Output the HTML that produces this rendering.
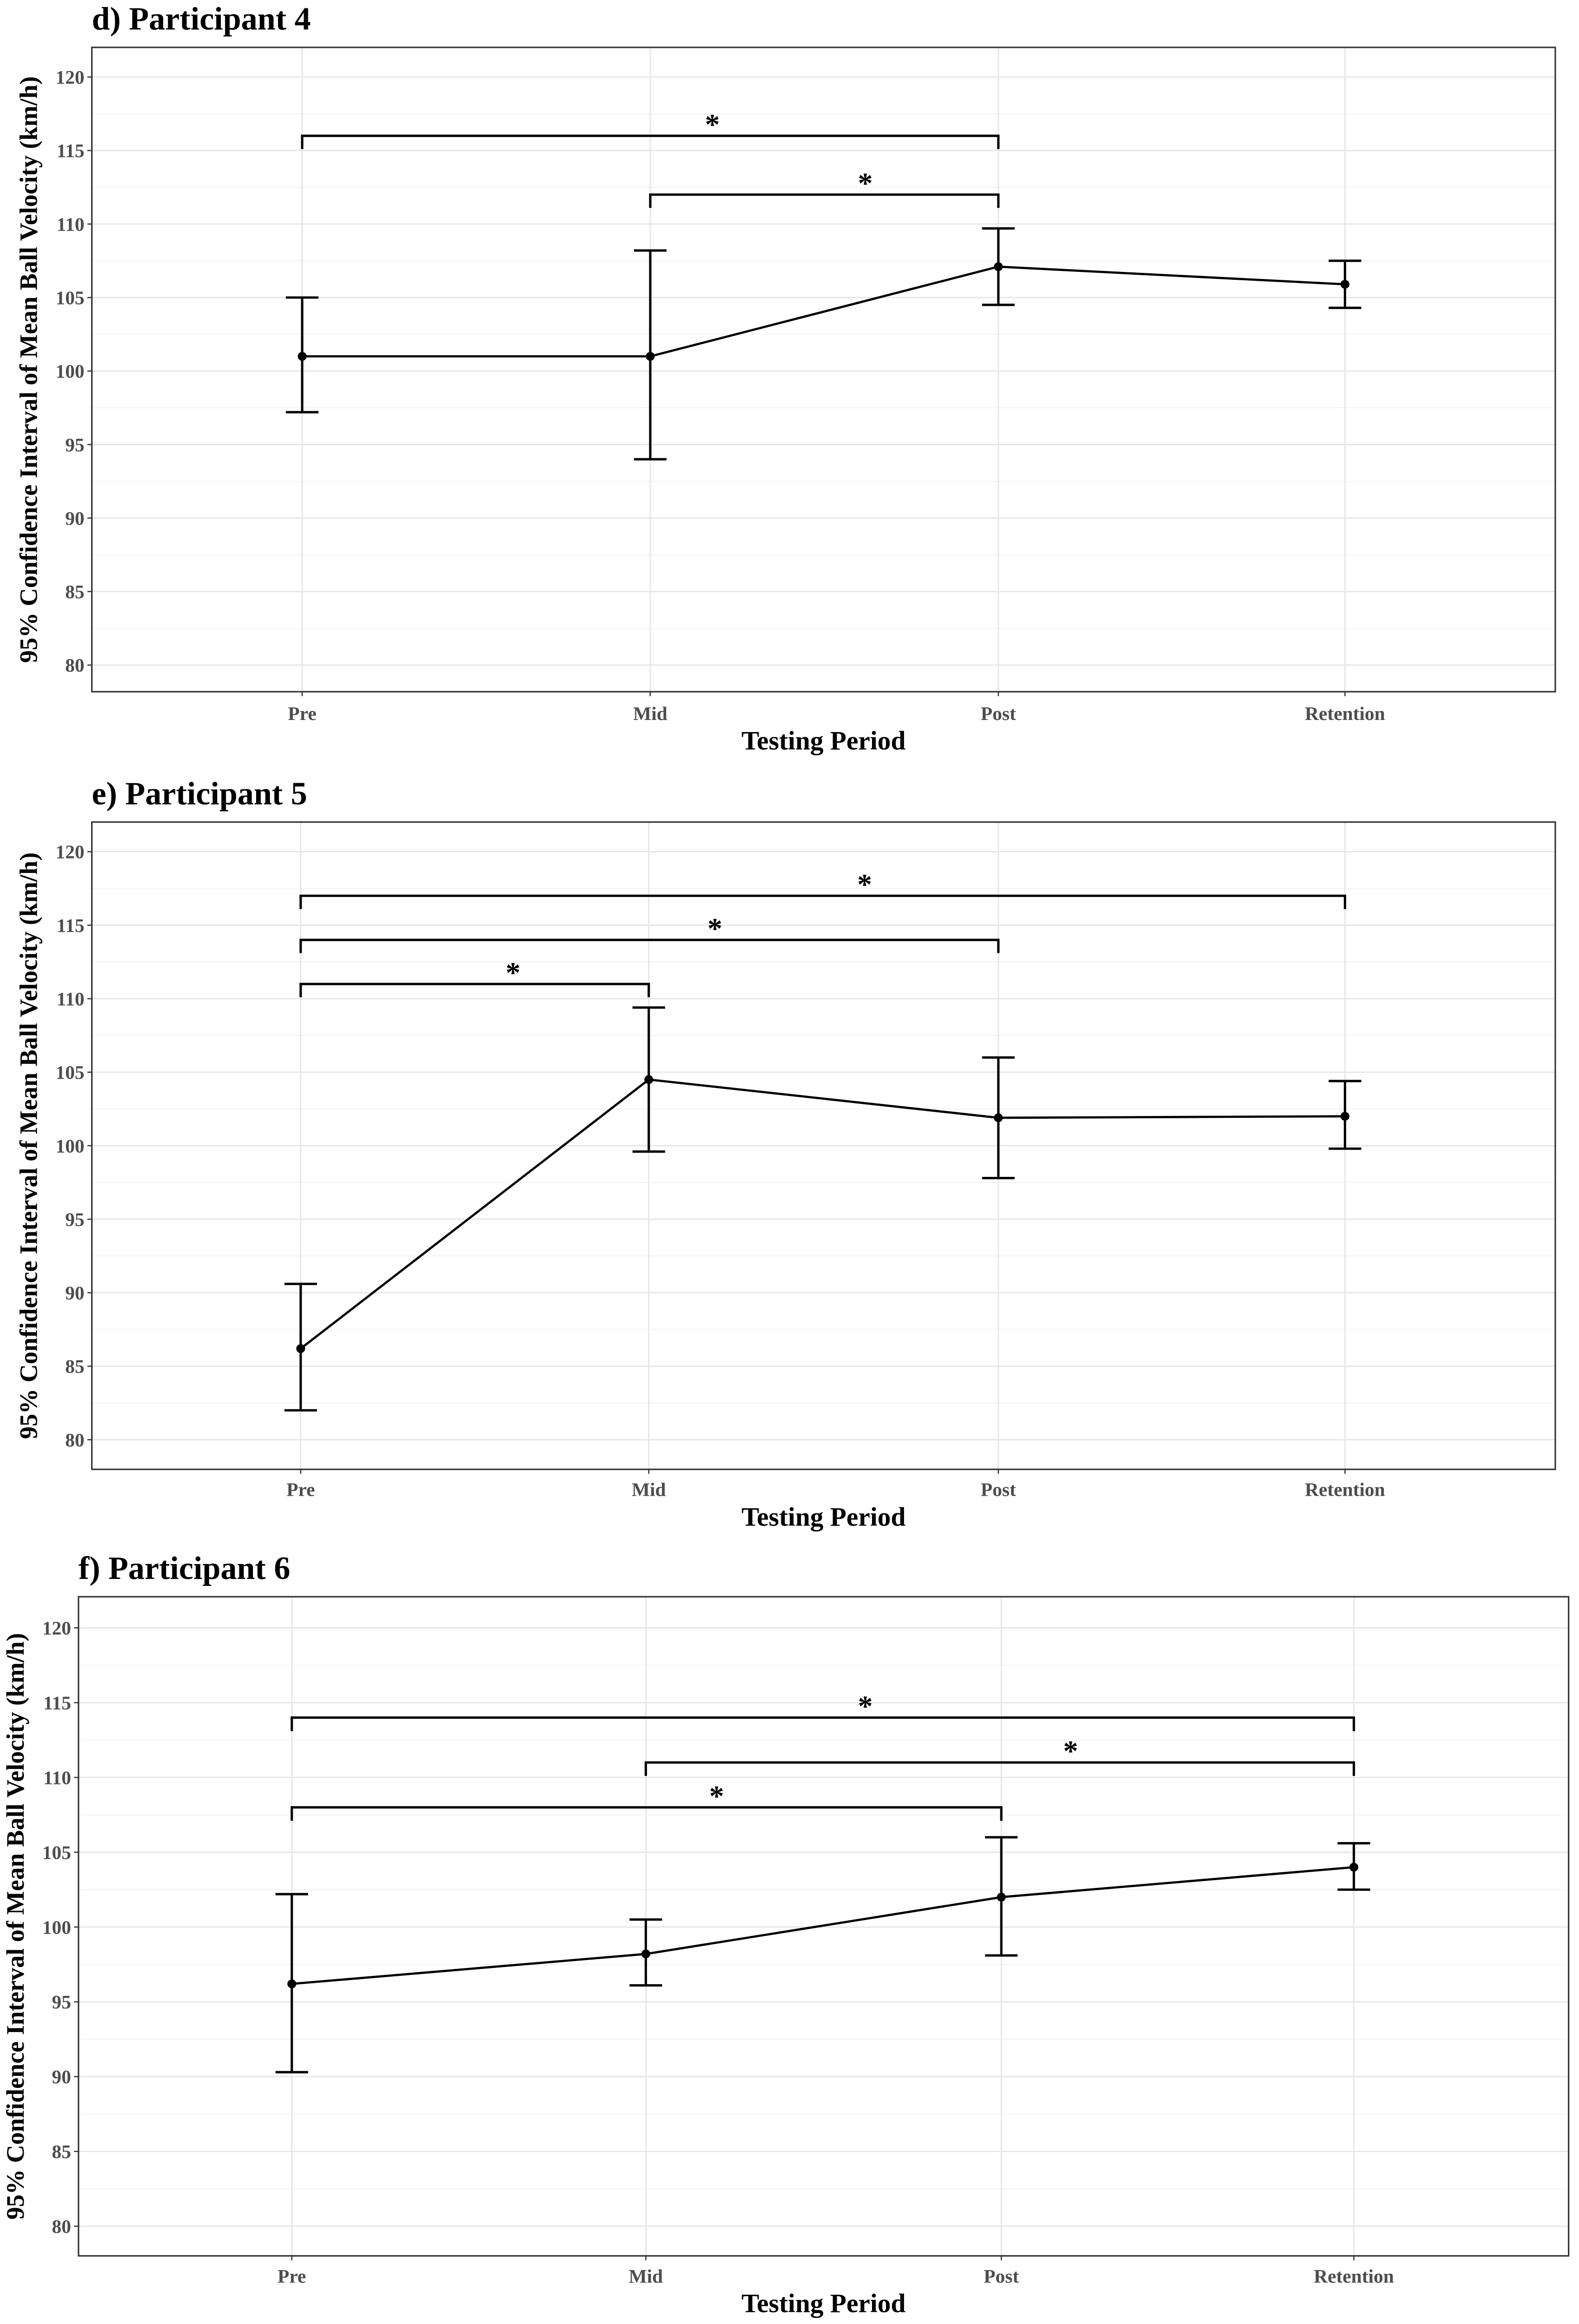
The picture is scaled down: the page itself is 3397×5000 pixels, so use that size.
<!DOCTYPE html>
<html><head><meta charset="utf-8"><style>
html,body{margin:0;padding:0;background:#fff}
svg{display:block}
text{font-family:"Liberation Serif",serif;font-weight:bold}
</style></head><body>
<svg id="chart" width="3397" height="5000" viewBox="0 0 1066 1569" preserveAspectRatio="none" xmlns="http://www.w3.org/2000/svg"></svg>
<script>
const categories = ["Pre","Mid","Post","Retention"];
const yTicks = [80,85,90,95,100,105,110,115,120];
const p4Mean = [101,101,107.1,105.9];
const p4Low = [97.2,94,104.5,104.3];
const p4High = [105,108.2,109.7,107.5];
const p4Brackets = [[0,2,116,1.18],[1,2,112,1.62]];
const p5Mean = [86.2,104.5,101.9,102];
const p5Low = [82,99.6,97.8,99.8];
const p5High = [90.6,109.4,106,104.4];
const p5Brackets = [[0,3,117,1.62],[0,2,114,1.19],[0,1,111,0.61]];
const p6Mean = [96.2,98.2,102,104];
const p6Low = [90.3,96.1,98.1,102.5];
const p6High = [102.2,100.5,106,105.6];
const p6Brackets = [[0,3,114,1.62],[1,3,111,2.2],[0,2,108,1.2]];

const svg = document.getElementById('chart');
const NS = "http://www.w3.org/2000/svg";
function el(tag, attrs, parent){const e=document.createElementNS(NS,tag);for(const k in attrs)e.setAttribute(k,attrs[k]);(parent||svg).appendChild(e);return e;}

const panels = [
 {title:"d) Participant 4", name:"panel-participant-4", box:[62,32,1050,467], y120:52, y80:449, xs:[204,439,674,908], mean:p4Mean, low:p4Low, high:p4High, br:p4Brackets, tickY:481, xTitleY:506, tx:62, ty:20, yTitleX:25},
 {title:"e) Participant 5", name:"panel-participant-5", box:[62,555,1050,992], y120:575, y80:972, xs:[203,438,674,908], mean:p5Mean, low:p5Low, high:p5High, br:p5Brackets, tickY:1005, xTitleY:1030, tx:62, ty:543, yTitleX:25},
 {title:"f) Participant 6", name:"panel-participant-6", box:[53,1078,1059,1523], y120:1099, y80:1503, xs:[197,436,676,914], mean:p6Mean, low:p6Low, high:p6High, br:p6Brackets, tickY:1536, xTitleY:1561, tx:53, ty:1066, yTitleX:16}
];

panels.forEach(p=>{
  const g = el('g',{});
  
  
  const [x0,y0,x1,y1]=p.box;
  const ys = v => p.y80 + (v-80)*(p.y120-p.y80)/40;
  const xc = idx => p.xs[0] + idx*(p.xs[3]-p.xs[0])/3;
  for(let v=77.5; v<=122.5; v+=5){const y=ys(v); if(y>y0&&y<y1) el('line',{x1:x0,x2:x1,y1:y,y2:y,stroke:'#f2f2f2','stroke-width':0.6},g);}
  yTicks.forEach(v=>{const y=ys(v); el('line',{x1:x0,x2:x1,y1:y,y2:y,stroke:'#e6e6e6','stroke-width':0.9},g);});
  p.xs.forEach(x=>el('line',{x1:x,x2:x,y1:y0,y2:y1,stroke:'#e6e6e6','stroke-width':0.9},g));
  el('rect',{x:x0,y:y0,width:x1-x0,height:y1-y0,fill:'none',stroke:'#333','stroke-width':1},g);
  yTicks.forEach(v=>{const y=ys(v);
    el('line',{x1:x0-3,x2:x0,y1:y,y2:y,stroke:'#333','stroke-width':0.8},g);
    const t=el('text',{x:x0-5,y:y+4.5,'text-anchor':'end','font-size':13,fill:'#4d4d4d'},g);t.textContent=v;
    
    
  });
  categories.forEach((c,i)=>{
    el('line',{x1:p.xs[i],x2:p.xs[i],y1:y1,y2:y1+3,stroke:'#333','stroke-width':0.8},g);
    const t=el('text',{x:p.xs[i],y:p.tickY+5,'text-anchor':'middle','font-size':13,fill:'#4d4d4d'},g);t.textContent=c;
    
    
  });
  el('polyline',{points:p.mean.map((m,i)=>p.xs[i]+','+ys(m)).join(' '),fill:'none',stroke:'#000','stroke-width':1.5},g);
  p.mean.forEach((m,i)=>{
    const x=p.xs[i], eb=el('g',{},g);
    
    
    el('line',{x1:x,x2:x,y1:ys(p.low[i]),y2:ys(p.high[i]),stroke:'#000','stroke-width':1.6},eb);
    el('line',{x1:x-11,x2:x+11,y1:ys(p.low[i]),y2:ys(p.low[i]),stroke:'#000','stroke-width':1.6},eb);
    el('line',{x1:x-11,x2:x+11,y1:ys(p.high[i]),y2:ys(p.high[i]),stroke:'#000','stroke-width':1.6},eb);
    const pt=el('circle',{cx:x,cy:ys(m),r:3,fill:'#000'},g);
    
    
  });
  p.br.forEach(b=>{
    const xa=p.xs[b[0]], xb=p.xs[b[1]], y=ys(b[2]), yd=ys(b[2]-0.9);
    const bg=el('g',{},g);
    
    
    el('polyline',{points:`${xa},${yd} ${xa},${y} ${xb},${y} ${xb},${yd}`,fill:'none',stroke:'#000','stroke-width':1.6},bg);
    const s=el('text',{x:xc(b[3]),y:y-1,'text-anchor':'middle','font-size':20,'font-family':'Liberation Sans, sans-serif',fill:'#000'},bg);s.textContent='*';
  });
  const tt=el('text',{x:p.tx,y:p.ty,'font-size':22,fill:'#000'},g);tt.textContent=p.title;
  
  
  const xt=el('text',{x:(x0+x1)/2,y:p.xTitleY,'text-anchor':'middle','font-size':18,fill:'#000'},g);xt.textContent='Testing Period';
  
  
  const cy=(y0+y1)/2;
  const yt=el('text',{x:p.yTitleX,y:cy,'text-anchor':'middle','font-size':17,fill:'#000',transform:`rotate(-90 ${p.yTitleX} ${cy})`},g);
  yt.textContent='95% Confidence Interval of Mean Ball Velocity (km/h)';
  
  
});
</script>
</body></html>
